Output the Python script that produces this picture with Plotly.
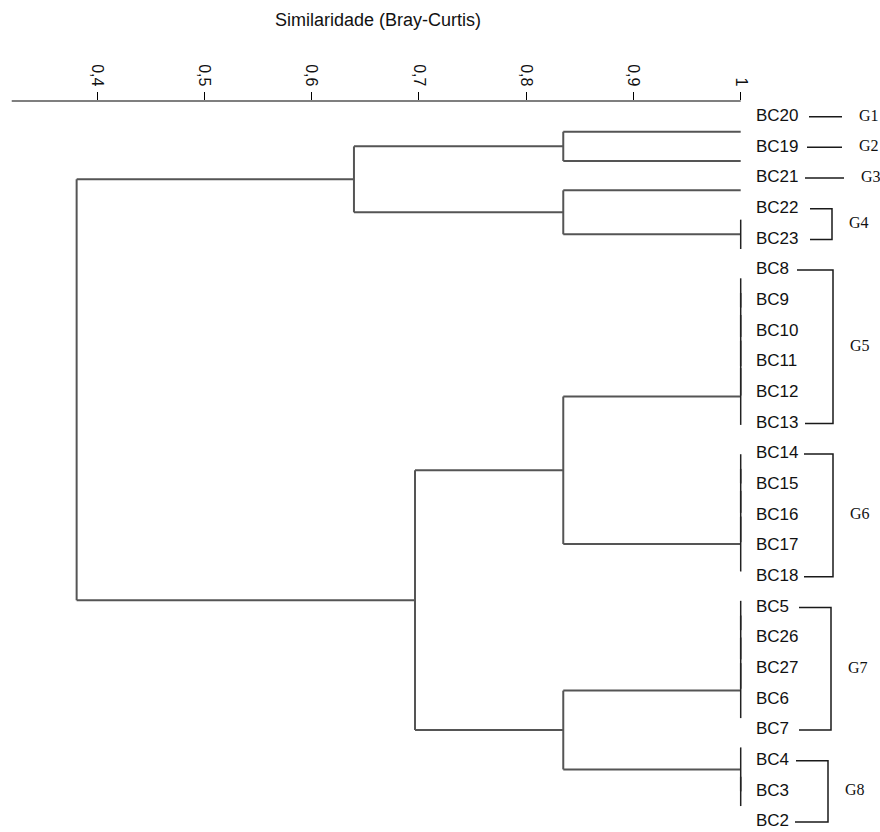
import plotly.graph_objects as go

# ---------------- data ----------------
leaf_labels = ["BC20", "BC19", "BC21", "BC22", "BC23", "BC8", "BC9", "BC10", "BC11",
               "BC12", "BC13", "BC14", "BC15", "BC16", "BC17", "BC18", "BC5", "BC26",
               "BC27", "BC6", "BC7", "BC4", "BC3", "BC2"]

# agglomerative merges (child A, child B, similarity of the join)
merge_ids = ["n1", "n2", "n3", "n4", "n5", "n6", "n7", "n8", "n9", "n10", "n11", "n12",
             "n13", "n14", "n15", "n16", "n17", "n18", "n19", "n20", "n21", "n22", "n23"]
merge_a = ["BC22", "BC8", "n2", "n3", "n4", "n5", "BC14", "n7", "n8", "n9", "BC5", "n11",
           "n12", "n13", "BC3", "BC4", "BC20", "BC21", "n17", "n6", "n14", "n20", "n19"]
merge_b = ["BC23", "BC9", "BC10", "BC11", "BC12", "BC13", "BC15", "BC16", "BC17", "BC18",
           "BC26", "BC27", "BC6", "BC7", "BC2", "n15", "BC19", "n1", "n18", "n10", "n16",
           "n21", "n22"]
merge_sim = [1.0, 1.0, 1.0, 1.0, 1.0, 1.0, 1.0, 1.0, 1.0, 1.0, 1.0, 1.0,
             1.0, 1.0, 1.0, 1.0, 0.8346, 0.8346, 0.6395, 0.8346, 0.8346, 0.6964, 0.381]

group_names = ["G1", "G2", "G3", "G4", "G5", "G6", "G7", "G8"]
group_first = ["BC20", "BC19", "BC21", "BC22", "BC8", "BC14", "BC5", "BC4"]
group_last = ["BC20", "BC19", "BC21", "BC23", "BC13", "BC18", "BC7", "BC2"]

tick_vals = [0.4, 0.5, 0.6, 0.7, 0.8, 0.9, 1.0]
tick_text = ["0,4", "0,5", "0,6", "0,7", "0,8", "0,9", "1"]
axis_start = 0.3205
title_text = "Similaridade (Bray-Curtis)"

# ---------------- style / layout constants ----------------
W, H = 880, 832
PX_AT_1 = 740.7          # pixel of similarity 1
PX_PER_UNIT = 1072.8     # pixels per similarity unit
TOP = 101                # y of the axis line (plot top)
LABEL_Y0, LABEL_STEP = 116.7, 30.67   # label rows (px)
TREE_Y0, TREE_STEP = 131.7, 29.32     # tree rows (drawn slightly offset)

br_top_px = [809, 807, 805, 810, 797, 804, 799, 796]
br_bot_px = [809, 807, 805, 810, 805, 804, 799, 795]
br_vert_px = [842, 842, 844, 832, 833, 833, 831, 828]
label_px = 756

SANS = "Liberation Sans, Arial, sans-serif"
SERIF = "Liberation Serif, Times New Roman, serif"


def px2s(px):
    return 1 + (px - PX_AT_1) / PX_PER_UNIT


x_range = [px2s(0), px2s(W)]
y_label_range = [(H - LABEL_Y0) / LABEL_STEP, (TOP - LABEL_Y0) / LABEL_STEP]
y_tree_range = [(H - TREE_Y0) / TREE_STEP, (TOP - TREE_Y0) / TREE_STEP]

# ---------------- tree geometry from the merges ----------------
pos = {lab: i for i, lab in enumerate(leaf_labels)}
sim = {lab: 1.0 for lab in leaf_labels}
hx, hy, vx, vy, bx, by = [], [], [], [], [], []
for mid, a, b, s in zip(merge_ids, merge_a, merge_b, merge_sim):
    pa, pb = pos[a], pos[b]
    if s >= 1.0:
        bx += [s, s, None]
        by += [pa, pb, None]
    else:
        vx += [s, s, None]
        vy += [pa, pb, None]
    for c in (a, b):
        if sim[c] != s:
            hx += [s, sim[c], None]
            hy += [pos[c], pos[c], None]
    pos[mid] = (pa + pb) / 2
    sim[mid] = s

fig = go.Figure()
tree_color = "#555555"
fig.add_trace(go.Scatter(x=hx, y=hy, mode="lines", yaxis="y2",
                         line=dict(color=tree_color, width=2), hoverinfo="skip"))
fig.add_trace(go.Scatter(x=vx, y=vy, mode="lines", yaxis="y2",
                         line=dict(color=tree_color, width=2), hoverinfo="skip"))
fig.add_trace(go.Scatter(x=bx, y=by, mode="lines", yaxis="y2",
                         line=dict(color="#222222", width=1.5), hoverinfo="skip"))

# leaf labels
fig.add_trace(go.Scatter(x=[px2s(label_px)] * len(leaf_labels),
                         y=list(range(len(leaf_labels))), mode="text",
                         text=leaf_labels, textposition="middle right",
                         textfont=dict(family=SANS, size=17, color="#111111"),
                         cliponaxis=False, hoverinfo="skip"))

# group brackets
gx, gy, tx, ty = [], [], [], []
for name, f, l, t0, b0, v in zip(group_names, group_first, group_last,
                                 br_top_px, br_bot_px, br_vert_px):
    i0, i1 = leaf_labels.index(f), leaf_labels.index(l)
    if i0 == i1:
        gx += [px2s(t0), px2s(v), None]
        gy += [i0, i0, None]
    else:
        gx += [px2s(t0), px2s(v), px2s(v), px2s(b0), None]
        gy += [i0, i0, i1, i1, None]
    tx.append(px2s(v + 17))
    ty.append((i0 + i1) / 2)
fig.add_trace(go.Scatter(x=gx, y=gy, mode="lines",
                         line=dict(color="#1a1a1a", width=1.5), hoverinfo="skip"))
fig.add_trace(go.Scatter(x=tx, y=ty, mode="text", text=group_names,
                         textposition="middle right",
                         textfont=dict(family=SERIF, size=16, color="#111111"),
                         cliponaxis=False, hoverinfo="skip"))

# axis line (only spans the similarity scale)
fig.add_shape(type="line", xref="x", yref="paper", x0=axis_start, x1=1.0, y0=1, y1=1,
              line=dict(color="#000000", width=1.2))

fig.update_layout(
    width=W, height=H,
    margin=dict(l=0, r=0, t=TOP, b=0, pad=0),
    paper_bgcolor="white", plot_bgcolor="white",
    showlegend=False,
    title=dict(text=title_text, x=378 / W, xanchor="center",
               y=1 - 20 / H, yanchor="middle",
               font=dict(family=SANS, size=18, color="#111111")),
    xaxis=dict(range=x_range, side="top", showgrid=False, zeroline=False,
               showline=False, ticks="outside", ticklen=8, tickwidth=1,
               tickcolor="#000000", tickvals=tick_vals, ticktext=tick_text,
               tickangle=90, tickfont=dict(family=SANS, size=16, color="#111111"),
               automargin=False),
    yaxis=dict(range=y_label_range, visible=False, automargin=False),
    yaxis2=dict(range=y_tree_range, visible=False, overlaying="y", automargin=False),
)

fig.write_html(
    "out.html",
    config={"displayModeBar": False},
    post_script="document.body.style.margin='0px';document.body.style.overflow='hidden';",
)
